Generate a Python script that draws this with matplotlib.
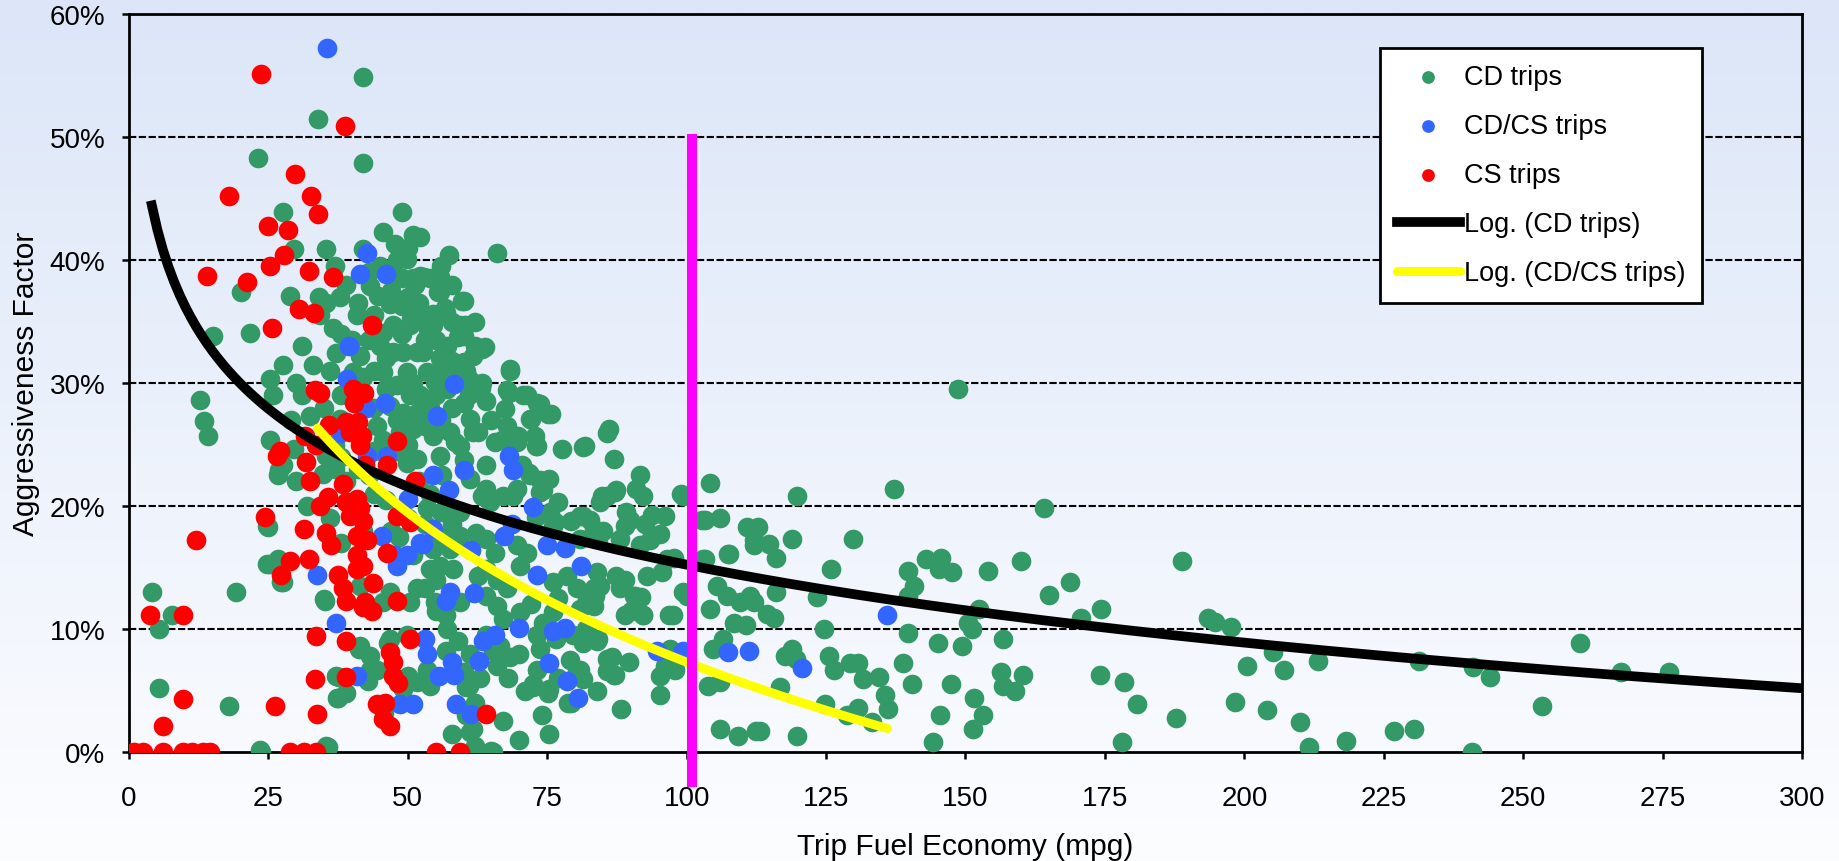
import numpy as np
import matplotlib
matplotlib.use("Agg")
import matplotlib.pyplot as plt
from matplotlib.ticker import FuncFormatter

plt.rcParams['font.family'] = ['Liberation Sans', 'DejaVu Sans']

# CD trips: (trip fuel economy mpg, aggressiveness factor %)
cd_trips = [
    (104.1, 21.9), (119.8, 20.8), (137.2, 21.4), (164.0, 19.8), (148.7, 29.5),
    (102.8, 18.9), (106.0, 19.0), (110.8, 18.3), (112.8, 18.3), (112.0, 16.8), (114.8, 16.9),
    (116.0, 15.8), (118.9, 17.3), (129.9, 17.3), (107.6, 16.1), (103.2, 15.7), (125.8, 14.9),
    (139.6, 14.7), (143.0, 15.7), (145.6, 15.8), (145.2, 14.9), (147.6, 14.6), (154.0, 14.7),
    (160.0, 15.5), (140.8, 13.5), (139.6, 12.7), (168.8, 13.8), (174.3, 11.6), (164.9, 12.8),
    (170.7, 10.9), (188.8, 15.5), (193.4, 10.9), (194.8, 10.6), (197.6, 10.2), (152.4, 11.6),
    (150.4, 10.5), (151.2, 10.0), (123.4, 12.6), (116.0, 13.0), (112.0, 12.2), (114.4, 11.2),
    (115.6, 10.9), (124.6, 10.0), (139.6, 9.7), (145.0, 8.9), (149.4, 8.6), (156.8, 9.2),
    (118.8, 8.4), (117.6, 7.8), (119.6, 7.6), (125.6, 7.8), (126.4, 6.7), (129.2, 7.2),
    (130.8, 7.2), (131.6, 5.9), (134.4, 6.1), (135.6, 4.6), (136.1, 3.5), (130.8, 3.6),
    (128.8, 3.0), (133.2, 2.4), (124.8, 3.9), (116.8, 5.3), (138.8, 7.2), (140.4, 5.5),
    (147.4, 5.5), (156.4, 6.5), (158.8, 5.0), (156.8, 5.4), (160.4, 6.3), (151.6, 4.4),
    (153.2, 3.0), (151.4, 1.9), (145.4, 3.0), (144.2, 0.8), (106.0, 1.9), (109.2, 1.3),
    (113.2, 1.7), (119.8, 1.3), (174.2, 6.3), (178.4, 5.7), (180.8, 3.9), (178.0, 0.8),
    (187.8, 2.8), (200.4, 7.0), (198.4, 4.1), (204.0, 3.4), (205.2, 8.1), (207.2, 6.7),
    (210.0, 2.4), (211.6, 0.4), (213.2, 7.4), (218.3, 0.9), (226.9, 1.7), (230.5, 1.9),
    (231.4, 7.4), (241.0, 6.9), (244.0, 6.1), (240.8, 0.0), (253.4, 3.7), (260.2, 8.9),
    (267.6, 6.5), (276.2, 6.5),
    (91.6, 22.5), (91.0, 21.4), (85.7, 20.8), (87.1, 21.1), (84.4, 20.3), (99.4, 20.8),
    (96.1, 19.2), (95.2, 17.7), (92.5, 18.5), (93.4, 17.2), (91.6, 16.8), (82.7, 18.9),
    (85.0, 18.0), (88.0, 17.3), (89.8, 18.9), (89.2, 19.5), (103.3, 18.9), (103.0, 15.7),
    (107.5, 16.1), (112.0, 17.2), (96.4, 15.7), (95.5, 14.6), (83.9, 14.6), (88.9, 14.0),
    (88.0, 13.3), (90.7, 12.7), (91.9, 12.6), (92.2, 11.1), (90.1, 11.5), (88.9, 11.1),
    (83.6, 12.7), (83.3, 11.9), (84.4, 13.5), (97.6, 11.1), (99.4, 13.0), (105.4, 13.5),
    (107.2, 12.7), (104.2, 11.6), (109.6, 12.2), (111.3, 12.7), (108.4, 10.5), (110.7, 10.3),
    (106.6, 9.2), (104.8, 8.4), (83.9, 9.0), (86.6, 7.7), (85.7, 6.6), (87.1, 6.3),
    (97.0, 8.4), (96.1, 7.0), (97.9, 6.7), (95.2, 6.2), (95.3, 4.6), (88.3, 3.5),
    (103.9, 5.4), (106.0, 5.7), (112.5, 1.7), (75.3, 1.5),
    (81.7, 24.9), (85.7, 25.9), (86.9, 23.8), (84.9, 20.8), (87.3, 21.3), (92.1, 20.8),
    (93.7, 19.3), (98.9, 21.0), (80.9, 19.2), (83.3, 18.1), (88.9, 18.4), (80.9, 17.3),
    (84.1, 17.3), (71.7, 22.7), (75.3, 22.2), (73.7, 21.1), (76.9, 20.3), (72.9, 19.1),
    (76.1, 18.4), (79.3, 18.8), (97.7, 15.8), (92.9, 14.3), (87.3, 14.3), (83.3, 13.3),
    (90.5, 12.7), (100.1, 12.7), (96.9, 11.1), (92.1, 11.1), (84.1, 9.2), (85.7, 7.6),
    (80.9, 6.7), (86.9, 6.3), (89.7, 7.3), (72.5, 5.5), (75.3, 5.1), (79.3, 4.0),
    (65.3, 0.0), (61.7, 1.9), (60.5, 3.0), (60.9, 5.4),
    (58.5, 25.2), (62.5, 26.0), (65.7, 25.2), (69.7, 25.7), (72.9, 24.9), (77.7, 24.6),
    (64.1, 23.3), (70.5, 23.3), (63.3, 20.8), (68.9, 20.8),
    (56.1, 22.5), (61.1, 22.2), (64.1, 21.4), (64.7, 20.3), (67.1, 20.8), (69.5, 21.4),
    (71.9, 22.5), (73.7, 22.1), (74.3, 21.3), (75.5, 19.5), (76.4, 18.7), (81.5, 19.2),
    (53.4, 19.8), (56.9, 20.0), (59.4, 19.5), (54.6, 16.5), (57.6, 16.5), (59.4, 17.6),
    (62.3, 17.8), (64.1, 17.3), (65.6, 16.2), (69.5, 16.8), (71.3, 16.2), (70.1, 15.1),
    (54.0, 14.9), (55.8, 15.1), (58.1, 14.9), (64.1, 14.9), (65.9, 14.0), (62.6, 14.3),
    (53.1, 13.3), (54.9, 12.2), (56.9, 11.1), (59.4, 12.2), (64.1, 12.7), (65.9, 11.9),
    (67.7, 13.3), (76.1, 13.8), (78.5, 14.3), (80.3, 13.3), (82.1, 12.4), (76.1, 11.4),
    (80.9, 11.6), (67.1, 10.8), (70.1, 11.4), (74.3, 10.5), (73.1, 9.5), (73.7, 8.4),
    (76.5, 9.2), (79.6, 9.5), (81.5, 8.9), (56.9, 8.2), (61.1, 8.0), (65.3, 8.2),
    (68.3, 7.7), (66.5, 8.6), (73.1, 6.7), (72.5, 5.3), (75.2, 4.8), (78.8, 4.0),
    (80.3, 6.6), (81.5, 5.9), (54.0, 5.4), (60.5, 5.3), (60.0, 6.5), (53.4, 6.7),
    (61.1, 1.6), (62.0, 0.5), (65.0, 0.1),
    (52.2, 41.9), (57.4, 40.4), (66.0, 40.6), (54.0, 38.5), (55.8, 38.6), (52.2, 38.7),
    (55.4, 37.4), (60.0, 36.7), (56.7, 36.1), (54.6, 35.6), (52.8, 35.2), (54.6, 34.7),
    (60.2, 34.7), (59.0, 33.7), (52.8, 32.5), (55.8, 32.0), (57.9, 31.8), (61.7, 32.2),
    (63.8, 32.9), (53.4, 30.9), (54.9, 30.1), (60.5, 31.0), (63.2, 29.6), (60.0, 28.4),
    (68.3, 31.0), (67.7, 29.4), (70.7, 29.0), (73.1, 28.4), (75.2, 27.5), (67.4, 27.9),
    (71.9, 27.1), (67.7, 26.5), (66.8, 25.4), (69.5, 25.2), (72.8, 25.7), (73.1, 24.9),
    (81.5, 24.8), (52.2, 29.0), (52.2, 27.1), (54.6, 25.7), (57.6, 26.0), (61.1, 27.1),
    (61.7, 26.0), (59.4, 24.9), (55.8, 24.1), (60.0, 23.7),
    (27.7, 43.9), (48.9, 43.9), (45.6, 42.3), (47.7, 41.3), (51.0, 42.0), (49.8, 40.1),
    (51.0, 38.5), (29.5, 40.9), (35.4, 40.9), (42.0, 40.9), (28.9, 37.1), (35.4, 36.5),
    (37.8, 37.0), (34.2, 35.5), (43.2, 37.9), (44.7, 37.1), (46.8, 36.4), (48.9, 36.3),
    (51.0, 35.5), (50.4, 34.7), (40.8, 35.5), (45.6, 34.1), (47.4, 34.7), (21.7, 34.1),
    (27.7, 31.5), (25.3, 30.3), (25.9, 29.0), (37.2, 32.4), (41.4, 32.2), (45.0, 33.0),
    (47.4, 32.5), (49.2, 32.5), (45.6, 30.9), (49.8, 30.9), (51.6, 32.5), (40.2, 30.9),
    (48.0, 29.8), (50.4, 29.0), (46.8, 28.1), (49.2, 27.6), (51.6, 27.6), (32.5, 27.3),
    (37.8, 27.1), (44.4, 26.5), (48.6, 26.0), (51.0, 26.3), (45.6, 25.4), (25.3, 25.4),
    (29.5, 24.6), (35.4, 24.1), (27.7, 23.3), (49.8, 23.5), (51.6, 23.8),
    (41.9, 54.9), (33.9, 51.5), (23.1, 48.3), (41.9, 47.9), (20.1, 37.4), (15.1, 33.8),
    (12.7, 28.6), (13.4, 26.9), (68.4, 31.1), (68.1, 29.2), (71.3, 29.0), (73.7, 28.3),
    (75.7, 27.5), (72.1, 27.1), (86.1, 26.3), (60.1, 31.7), (60.9, 30.3), (63.3, 32.8),
    (60.1, 33.8), (59.3, 34.7), (59.7, 36.7), (63.3, 30.0), (52.9, 38.6), (55.7, 37.4),
    (56.9, 35.7), (51.3, 38.0), (53.7, 34.4), (50.5, 35.2),
    (14.1, 25.7), (4.1, 13.0), (5.3, 10.0), (7.7, 11.1), (5.3, 5.2), (17.9, 3.7),
    (19.1, 13.0), (23.7, 0.0), (35.7, 0.4), (24.9, 18.3), (25.3, 15.3), (26.9, 15.4),
    (26.9, 22.9), (27.3, 13.8), (35.1, 12.3), (37.3, 4.4), (38.9, 4.8), (37.7, 6.1),
    (42.9, 5.8), (43.3, 6.7), (41.3, 8.4), (46.5, 8.9), (45.7, 3.2),
    (26.8, 22.5), (34.8, 22.6), (36.9, 23.0), (24.7, 18.4), (24.7, 15.3), (26.8, 15.7),
    (27.7, 13.8), (35.0, 12.4), (41.4, 8.6), (43.2, 7.8), (44.4, 6.7), (42.6, 5.9),
    (37.2, 6.2), (37.5, 4.4), (46.8, 9.2), (49.8, 9.5), (50.1, 6.2), (49.2, 5.1),
    (51.6, 5.7), (45.6, 12.2), (46.8, 13.0), (23.5, 0.2), (35.4, 0.5), (50.4, 12.2),
    (51.6, 13.3),
    (52.0, 22.0), (54.0, 21.0), (50.0, 19.0), (53.0, 18.5), (56.0, 19.5), (55.0, 14.0),
    (51.0, 16.0), (56.0, 17.5), (58.0, 18.5), (41.4, 13.5), (44.0, 21.0), (42.0, 18.0),
    (38.0, 17.0), (46.0, 20.5), (43.0, 22.5), (39.0, 22.0), (47.0, 18.0), (48.5, 17.5),
    # dense core, partly hidden under other points
    (44.0, 31.0), (46.0, 29.5), (43.0, 33.5), (47.0, 37.5), (49.0, 38.5), (50.0, 37.0),
    (52.0, 36.5), (53.0, 33.5), (55.0, 33.5), (56.0, 31.0), (57.0, 29.5), (58.0, 28.0),
    (56.0, 27.0), (54.0, 28.0), (53.0, 26.5), (50.0, 25.0), (48.0, 24.5), (57.0, 33.0),
    (58.0, 35.0), (62.0, 35.0), (61.0, 29.0), (64.0, 28.5), (65.0, 27.0), (45.0, 39.5),
    (47.0, 39.0), (49.0, 34.0), (44.0, 35.5), (40.0, 33.5), (38.0, 34.0), (36.0, 31.0),
    (38.0, 29.0), (44.0, 28.0), (36.5, 34.5), (31.0, 33.0), (30.0, 30.0), (33.0, 31.5),
    (39.0, 38.0), (41.0, 36.5), (43.0, 39.0), (48.0, 40.0), (50.0, 41.0), (56.0, 39.5),
    (58.0, 38.0), (42.0, 30.5), (46.0, 32.0), (48.0, 27.0), (51.0, 30.0), (55.0, 29.0),
    (59.0, 31.0), (62.0, 33.0), (35.0, 28.0), (37.0, 25.0), (41.0, 23.0), (44.0, 24.5),
    (30.0, 22.0), (32.0, 20.0), (36.0, 19.0), (38.0, 24.0), (29.0, 27.0), (31.0, 29.0),
    (34.0, 37.0), (37.0, 39.5),
    (57.0, 10.0), (59.0, 9.0), (63.0, 6.0), (66.0, 7.0), (68.0, 6.0), (70.0, 8.0),
    (71.0, 5.0), (74.0, 3.0), (77.0, 6.0), (79.0, 7.5), (82.0, 10.0), (84.0, 5.0),
    (62.0, 4.0), (67.0, 2.5), (70.0, 1.0), (58.0, 1.5), (64.0, 9.5), (72.0, 12.0),
    (77.0, 12.5), (55.0, 11.5),
]

# CD/CS trips
cdcs_trips = [
    (35.5, 57.2), (42.7, 40.6), (41.5, 38.9), (46.0, 38.9), (39.5, 33.0), (39.1, 30.3),
    (58.2, 29.9), (45.9, 28.4), (42.5, 28.0), (55.3, 27.3), (37.8, 25.9), (42.6, 24.1),
    (46.2, 24.1), (45.3, 17.6), (48.0, 15.1), (49.8, 16.0), (33.8, 14.4), (37.1, 10.5),
    (40.8, 6.2), (48.6, 3.9), (51.0, 3.9), (52.2, 17.0), (54.6, 22.5), (60.0, 22.9),
    (68.8, 22.9), (68.1, 24.1), (57.4, 21.3), (72.5, 19.9), (54.6, 18.1), (52.8, 16.9),
    (67.2, 17.6), (68.6, 18.5), (61.4, 16.4), (74.9, 16.8), (78.2, 16.6), (81.0, 15.1),
    (73.2, 14.4), (57.6, 13.0), (56.9, 12.3), (61.9, 12.9), (70.0, 10.1), (76.1, 9.8),
    (78.2, 10.1), (63.5, 9.0), (65.6, 9.5), (53.1, 9.2), (53.4, 8.0), (57.9, 7.3),
    (58.2, 6.3), (55.5, 6.2), (62.8, 7.4), (75.3, 7.2), (78.5, 5.8), (80.6, 4.4),
    (58.6, 3.9), (61.4, 3.1), (94.6, 8.2), (99.4, 8.2), (107.5, 8.1), (111.2, 8.2),
    (120.6, 6.8), (136.0, 11.1), (50.1, 20.6), (47.7, 16.0),
]

# CS trips
cs_trips = [
    (23.6, 55.1), (38.7, 50.9), (17.9, 45.2), (29.7, 47.0), (32.7, 45.2), (33.9, 43.7),
    (24.9, 42.8), (28.5, 42.4), (27.8, 40.4), (25.3, 39.5), (13.9, 38.7), (21.1, 38.2),
    (32.3, 39.1), (36.6, 38.6), (30.5, 36.0), (33.1, 35.7), (25.7, 34.5), (43.5, 34.7),
    (33.4, 29.4), (34.2, 29.2), (40.1, 29.5), (42.1, 29.2), (40.3, 28.4), (35.9, 26.6),
    (31.6, 25.7), (33.6, 25.0), (39.0, 26.8), (41.1, 26.8), (39.6, 26.0), (41.7, 25.7),
    (41.4, 25.0), (48.0, 25.3), (27.1, 24.5), (26.5, 24.1), (31.7, 23.6), (42.3, 23.3),
    (46.2, 23.3), (32.5, 22.0), (38.3, 21.8), (24.4, 19.1), (34.2, 20.0), (35.7, 20.7),
    (39.0, 20.3), (40.8, 20.6), (41.4, 19.8), (31.3, 18.1), (35.4, 17.8), (36.3, 16.8),
    (40.8, 17.6), (42.6, 17.2), (39.6, 19.2), (42.0, 18.8), (46.2, 16.2), (48.0, 19.2),
    (50.4, 18.7), (40.8, 16.0), (42.0, 15.1), (40.8, 14.9), (28.9, 15.5), (32.2, 15.7),
    (27.2, 14.4), (37.5, 14.4), (43.8, 13.7), (38.4, 13.3), (39.0, 12.3), (42.3, 12.2),
    (43.5, 11.5), (42.0, 11.8), (48.0, 12.3), (33.6, 9.4), (39.0, 9.0), (50.4, 9.2),
    (33.4, 5.9), (39.0, 6.1), (46.8, 8.1), (47.4, 7.3), (47.4, 6.2), (48.3, 5.6),
    (26.1, 3.7), (33.8, 3.1), (44.4, 3.9), (45.9, 4.0), (45.6, 2.7), (46.8, 2.1),
    (28.9, 0.0), (31.3, 0.0), (33.6, 0.0), (0.9, 0.0), (2.5, 0.0), (6.1, 0.0),
    (9.7, 0.0), (11.3, 0.0), (13.3, 0.0), (14.5, 0.0), (3.7, 11.1), (9.7, 11.1),
    (12.1, 17.2), (9.7, 4.3), (6.1, 2.1), (55.0, 0.0), (59.3, 0.0), (64.0, 3.1),
    (51.3, 22.0),
]

# vertical marker at ~101 mpg
marker_x = [101, 101]
marker_y = [-2.4, 49.8]

x_ticks = list(range(0, 301, 25))
y_ticks = list(range(0, 61, 10))

cd = np.array(cd_trips)
cdcs = np.array(cdcs_trips)
cs = np.array(cs_trips)

fig = plt.figure(figsize=(18.39, 8.62), dpi=100)

# gradient background
bg = fig.add_axes([0, 0, 1, 1], zorder=-10)
grad = np.linspace(0, 1, 256)[:, None]
top = np.array([220, 230, 248]) / 255
bottom = np.array([252, 253, 255]) / 255
img = top[None, None, :] * (1 - grad[:, :, None]) + bottom[None, None, :] * grad[:, :, None]
bg.imshow(img, aspect='auto', extent=[0, 1, 0, 1])
bg.axis('off')

ax = fig.add_axes([129 / 1839, 1 - 753 / 862, (1802 - 129) / 1839, (753 - 15) / 862])
ax.set_facecolor('none')

green = '#339966'
blue = '#3366FF'
red = '#FF0000'
s = 200

ax.scatter(cd[:, 0], cd[:, 1], s=s, color=green, linewidths=0, zorder=3, label='CD trips')
ax.scatter(cdcs[:, 0], cdcs[:, 1], s=s, color=blue, linewidths=0, zorder=4, label='CD/CS trips')
ax.scatter(cs[:, 0], cs[:, 1], s=s, color=red, linewidths=0, zorder=5, label='CS trips')

# logarithmic trendlines fitted to the data
a1, b1 = np.polyfit(np.log(cd[:, 0]), cd[:, 1], 1)
x1 = np.linspace(cd[:, 0].min(), 300, 300)
ax.plot(x1, a1 * np.log(x1) + b1, color='black', lw=7, zorder=6, label='Log. (CD trips)')

a2, b2 = np.polyfit(np.log(cdcs[:, 0]), cdcs[:, 1], 1)
x2 = np.linspace(cdcs[:, 0].min(), cdcs[:, 0].max(), 200)
ax.plot(x2, a2 * np.log(x2) + b2, color='#FFFF00', lw=6.5, zorder=7,
        solid_capstyle='round', label='Log. (CD/CS trips)')

ax.plot(marker_x, marker_y, color='#FF00FF', lw=7.2, zorder=8, clip_on=False)

ax.set_xlim(0, 300)
ax.set_ylim(0, 60)
ax.set_xticks(x_ticks)
ax.set_yticks(y_ticks)
ax.yaxis.set_major_formatter(FuncFormatter(lambda v, p: '%d%%' % v))

for yv in y_ticks[1:]:
    ax.axhline(yv, color='black', lw=1.5, ls=(0, (3.5, 1.2)), zorder=1)

for sp in ax.spines.values():
    sp.set_linewidth(2)
    sp.set_color('black')

ax.tick_params(axis='both', direction='out', length=5, width=1.8, labelsize=20, colors='black')
ax.tick_params(axis='x', pad=19)
ax.tick_params(axis='y', pad=12)

ax.set_xlabel('Trip Fuel Economy (mpg)', fontsize=21.5)
ax.set_ylabel('Aggressiveness Factor', fontsize=21.5)
ax.xaxis.set_label_coords(0.5, (753 - 833) / 738)
ax.xaxis.label.set_va('top')
ax.yaxis.set_label_coords((40 - 129) / 1673, 0.5)

leg = ax.legend(loc='upper right', bbox_to_anchor=(1702 / 1839, 1 - 49 / 862),
                bbox_transform=fig.transFigure, fontsize=19.5, frameon=True,
                fancybox=False, edgecolor='black', facecolor='white', framealpha=1,
                markerscale=0.65, handlelength=2.35, handletextpad=0.15,
                labelspacing=0.85, borderpad=0.6, borderaxespad=0)
leg.get_frame().set_linewidth(2)
leg.set_zorder(20)

fig.savefig('out.png', dpi=100)
